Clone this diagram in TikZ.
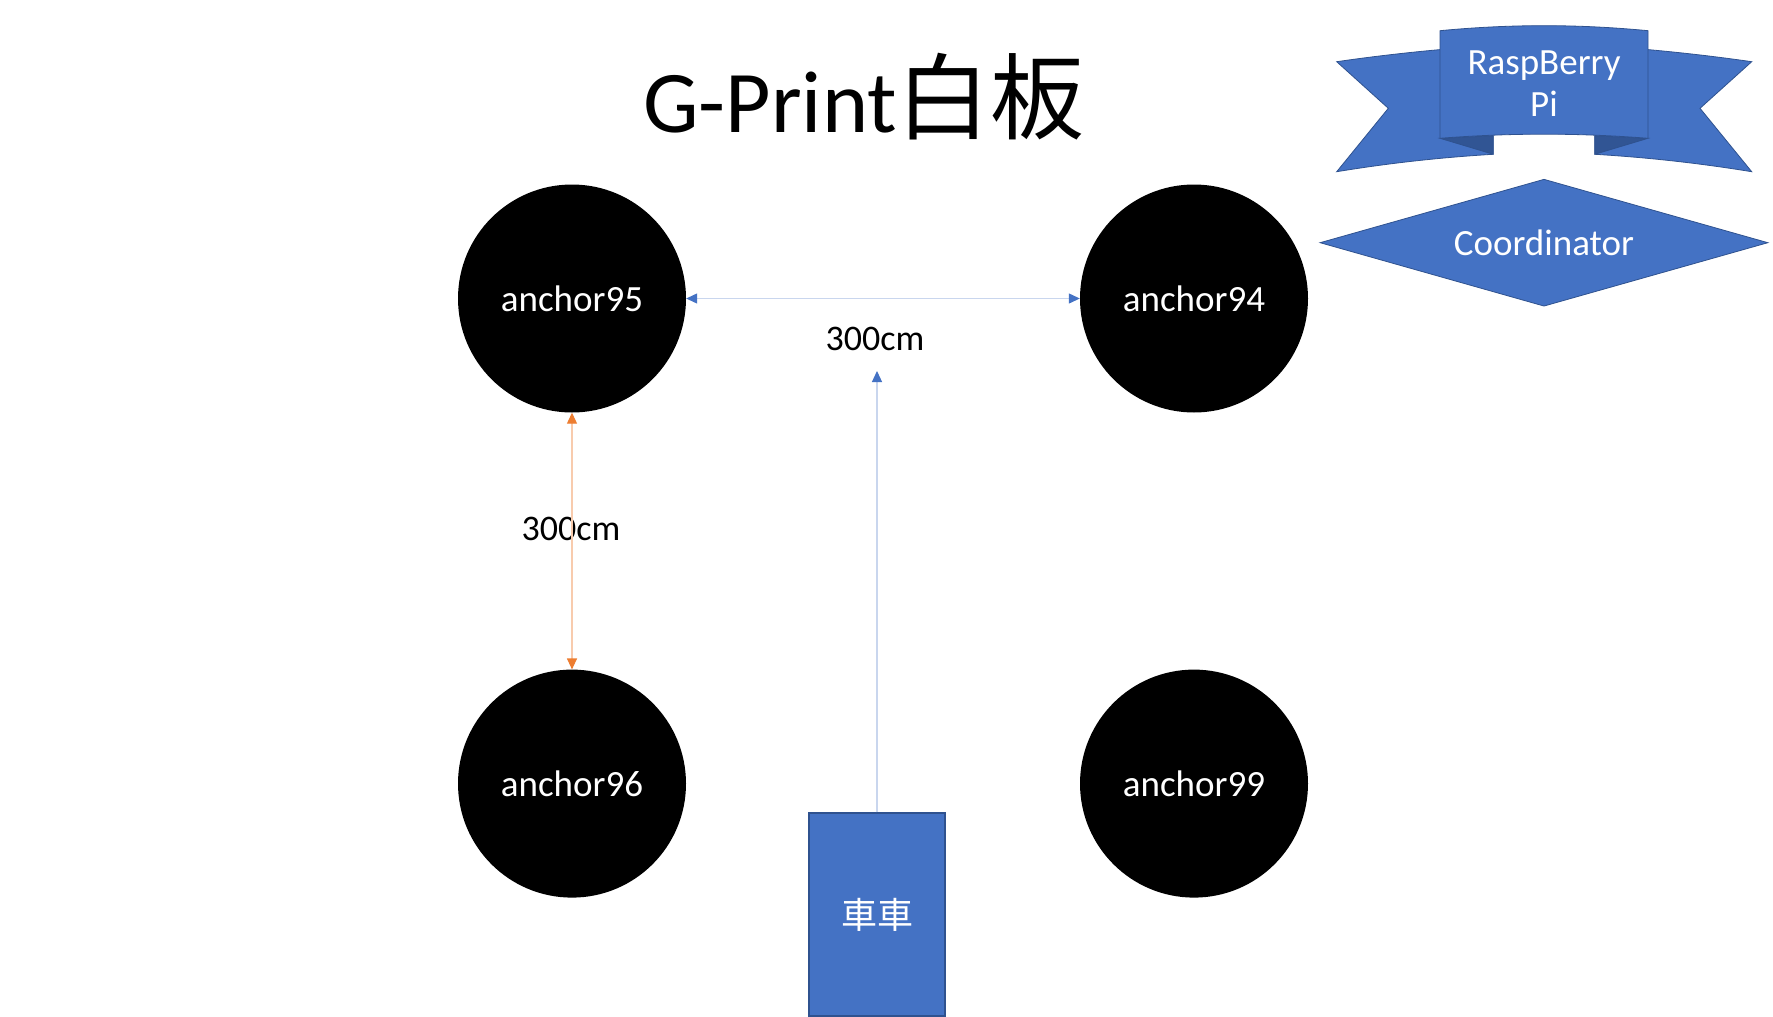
\documentclass[tikz,border=0pt]{standalone}
\usepackage{fontspec}
\setmainfont{Carlito}
\newfontfamily\cjk{Noto Sans CJK TC}
\usetikzlibrary{arrows.meta,shapes.geometric}
\definecolor{accblue}{HTML}{4472C4}
\definecolor{darkblue}{HTML}{2F528F}
\definecolor{paleblue}{HTML}{C9D6EE}
\definecolor{accorange}{HTML}{ED7D31}
\definecolor{paleorange}{HTML}{F8CBAD}
\tikzset{
  circ/.style={circle,fill=black,minimum size=228pt,inner sep=0pt,text=white,font=\fontsize{37}{44}\selectfont},
  lbl/.style={inner sep=0pt,font=\fontsize{36}{43}\selectfont},
  bluearrow/.style={draw=paleblue,line width=1.2pt},
  btip/.tip={Triangle[length=11pt,width=10pt,color=accblue]},
  otip/.tip={Triangle[length=11pt,width=10pt,color=accorange]},
  shapefill/.style={fill=accblue,draw=darkblue,line width=0.8pt},
  wtext/.style={text=white,font=\fontsize{37}{42}\selectfont,align=center,inner sep=0pt},
}
\begin{document}
\begin{tikzpicture}[x=1pt,y=-1pt]
\useasboundingbox[fill=white] (0,0) rectangle (1773,1017);
% title
\node[anchor=base west,inner sep=0pt,font=\fontsize{88}{100}\selectfont] (title) at (643,132.7) {G-Print{\cjk\fontsize{94}{100}\selectfont 白板}};
% anchors
\node[circ] (a95) at (572,298.5) {anchor95};
\node[circ] (a94) at (1194,298.5) {anchor94};
\node[circ] (a96) at (572,783.6) {anchor96};
\node[circ] (a99) at (1194,783.6) {anchor99};
% labels
\node[lbl] (l1) at (875,339) {300cm};
\node[lbl] (l2) at (571,529) {300cm};
% arrows
\draw[bluearrow,btip-btip] (a95.east) -- (a94.west);
\draw[draw=paleorange,line width=1.2pt,otip-otip] (a95.south) -- (a96.north);
% car
\node[fill=accblue,draw=darkblue,line width=1.2pt,minimum width=136pt,minimum height=203pt,inner sep=0pt,text=white,font=\cjk\fontsize{36}{40}\selectfont] (car) at (877,914.5) {車車};
\coordinate (tipc) at (877,371);
\draw[bluearrow,-btip] (car.north) -- (tipc);
% ribbon wings
\path[shapefill] (1336.7,61.7) .. controls (1390,54) and (1440,49) .. (1493,45.5) -- (1493,154.3) .. controls (1440,157.5) and (1390,163) .. (1336.7,171.7) -- (1388.3,108.3) -- cycle;
\path[shapefill] (1751.7,61.7) .. controls (1698,54) and (1648,49) .. (1595,45.5) -- (1595,154.3) .. controls (1648,157.5) and (1698,163) .. (1751.7,171.7) -- (1700,108.3) -- cycle;
% folds
\path[fill=darkblue!90!accblue,draw=darkblue,line width=0.8pt] (1440,138.3) -- (1493.3,154.3) -- (1493.3,135.8) -- cycle;
\path[fill=darkblue!90!accblue,draw=darkblue,line width=0.8pt] (1648,138.3) -- (1594.7,154.3) -- (1594.7,135.8) -- cycle;
% ribbon panel
\path[shapefill] (1440,30.7) .. controls (1510,24) and (1578,24) .. (1648,30.7) -- (1648,138.3) .. controls (1578,132.8) and (1510,132.8) .. (1440,138.3) -- cycle;
\node[wtext] (rpi) at (1544,84) {RaspBerry\\Pi};
% coordinator
\node[diamond,shapefill,aspect=3.53,minimum width=448pt,minimum height=127pt,inner sep=0pt,text=white,font=\fontsize{37}{42}\selectfont] (coord) at (1544,242.7) {Coordinator};
\end{tikzpicture}
\end{document}
